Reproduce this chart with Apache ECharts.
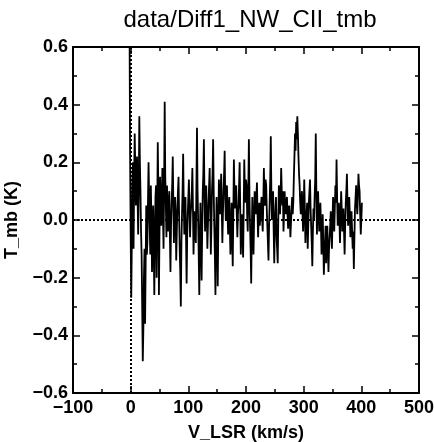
<!DOCTYPE html>
<html>
<head>
<meta charset="utf-8">
<script src="https://cdn.jsdelivr.net/npm/echarts@6/dist/echarts.min.js"></script>
<style>
  html, body { margin: 0; padding: 0; background: #fff; }
  #main { width: 434px; height: 442px; }
</style>
</head>
<body>
<div id="main"></div>
<script>
// spectrum: first channel velocity and channel width (km/s)
var v0 = -3;
var dv = 1;
// antenna temperature per channel (K)
var tmb = [
    0.95, 0.70, 0.23, -0.05, -0.27, -0.08, 0.12, 0.20, -0.10, 0.14, 0.30, 0.18, 0.05, 0.14, 0.22, 0.08, -0.05, 0.10, 0.36, 0.20,
    0.10, -0.04, -0.12, -0.30, -0.49, -0.38, -0.20, -0.10, -0.36, -0.15, 0.05, -0.12, -0.08, 0.06, 0.20, 0.08, -0.02, -0.12, 0.12, 0.00,
    -0.18, -0.06, 0.05, -0.10, -0.26, -0.05, 0.08, 0.12, -0.20, 0.02, 0.27, 0.10, -0.26, -0.04, 0.15, 0.05, -0.02, 0.08, 0.18, 0.02,
    -0.10, 0.12, 0.41, 0.15, 0.05, -0.06, 0.12, 0.02, -0.04, 0.06, 0.10, -0.05, -0.18, -0.02, 0.06, 0.12, 0.22, 0.06, -0.08, 0.02,
    0.08, 0.02, -0.14, -0.04, 0.04, 0.10, 0.15, 0.02, -0.10, -0.18, -0.30, -0.08, 0.02, 0.10, 0.23, 0.06, -0.05, 0.02, 0.08, -0.06,
    -0.22, -0.06, 0.02, 0.08, 0.14, 0.04, -0.06, 0.02, 0.05, 0.10, 0.18, 0.04, -0.12, -0.02, 0.03, -0.04, -0.08, 0.12, 0.32, 0.10,
    0.00, -0.12, -0.26, -0.06, 0.06, -0.08, -0.21, -0.04, 0.10, 0.16, 0.28, 0.08, -0.04, 0.04, 0.12, 0.02, -0.10, -0.02, 0.06, 0.12,
    0.18, 0.04, -0.12, -0.02, 0.10, 0.16, 0.28, 0.10, -0.02, -0.12, -0.26, -0.06, 0.08, -0.04, -0.23, -0.02, 0.14, 0.06, 0.02, 0.10,
    0.16, 0.04, -0.08, 0.02, 0.10, 0.16, 0.24, 0.08, 0.00, 0.06, 0.12, 0.02, -0.05, 0.03, 0.08, -0.02, -0.12, -0.04, 0.06, -0.06,
    -0.16, 0.02, 0.21, 0.10, 0.04, 0.08, 0.12, 0.02, -0.06, 0.02, 0.05, 0.12, 0.20, 0.04, -0.12, -0.02, 0.02, -0.06, -0.13, 0.04,
    0.21, 0.10, 0.06, 0.14, 0.12, 0.02, -0.04, 0.10, 0.28, 0.08, -0.02, -0.10, -0.22, -0.04, 0.08, -0.02, -0.12, 0.00, 0.10, 0.04,
    0.02, 0.08, 0.13, 0.02, -0.06, 0.02, 0.06, -0.02, 0.02, 0.05, 0.08, 0.00, -0.04, 0.06, 0.18, 0.08, 0.05, 0.14, 0.12, 0.04,
    -0.02, -0.08, -0.14, -0.02, 0.06, 0.14, 0.29, 0.10, 0.00, 0.05, 0.10, -0.04, -0.15, -0.02, 0.04, 0.08, -0.06, -0.10, -0.15, 0.00,
    0.12, 0.06, 0.02, 0.08, 0.18, 0.10, 0.05, 0.10, -0.04, 0.02, 0.10, 0.04, 0.02, 0.06, 0.08, 0.02, -0.03, 0.04, 0.05, 0.00,
    -0.06, -0.01, 0.04, 0.08, 0.02, 0.06, 0.15, 0.22, 0.30, 0.24, 0.34, 0.28, 0.36, 0.30, 0.22, 0.16, 0.12, 0.06, 0.02, 0.06,
    0.10, 0.02, -0.04, 0.04, 0.14, 0.04, -0.08, -0.02, 0.02, 0.06, -0.10, -0.02, 0.06, 0.10, 0.14, 0.04, -0.02, -0.08, -0.16, -0.04,
    0.04, 0.00, 0.08, 0.14, 0.30, 0.10, -0.05, 0.04, 0.10, 0.02, -0.04, 0.02, 0.06, -0.02, -0.12, -0.04, 0.02, -0.08, -0.19, -0.12,
    -0.08, -0.02, -0.15, -0.08, -0.02, -0.10, -0.18, -0.10, -0.06, -0.02, 0.03, -0.04, -0.10, 0.00, 0.08, 0.02, -0.04, 0.04, 0.12, 0.06,
    0.21, 0.08, -0.02, 0.02, 0.06, 0.00, -0.08, 0.02, 0.10, 0.04, -0.04, 0.02, 0.04, -0.04, -0.12, -0.02, 0.06, 0.10, 0.16, 0.06,
    -0.02, 0.02, 0.08, 0.02, -0.06, -0.02, 0.03, -0.04, -0.10, -0.04, -0.17, -0.06, 0.04, 0.08, 0.12, 0.06, 0.02, 0.08, 0.16, 0.12,
    0.10, 0.02, -0.05, 0.00, 0.06
];
var xTicks = [-100, 0, 100, 200, 300, 400, 500];
var yTicks = [-0.6, -0.4, -0.2, 0.0, 0.2, 0.4, 0.6];

var chart = echarts.init(document.getElementById('main'));

var points = tmb.map(function (t, i) {
    return [v0 + i * dv, t];
});

var font = 'Liberation Sans';

// minus sign like the original plot
function minus(s) {
    return String(s).replace('-', '\u2212');
}

var tickStyle = {show: true, inside: true, length: 7, lineStyle: {color: '#000', width: 1.5}};
var minorStyle = {show: true, splitNumber: 2, length: 4, lineStyle: {color: '#000', width: 1.5}};
var lineStyle = {show: true, onZero: false, lineStyle: {color: '#000', width: 2}};
var labelFont = {fontFamily: font, fontSize: 18, fontWeight: 'bold', color: '#000'};

var option = {
    backgroundColor: '#fff',
    animation: false,
    title: {
        text: 'data/Diff1_NW_CII_tmb',
        left: 245,
        top: 3,
        textAlign: 'center',
        textStyle: {fontFamily: font, fontSize: 24, fontWeight: 'normal', color: '#000'}
    },
    grid: {left: 73, right: 15, top: 47, bottom: 49, outerBoundsMode: 'none'},
    xAxis: [{
        type: 'value',
        min: -100, max: 500, interval: 100,
        name: 'V_LSR (km/s)',
        nameLocation: 'middle',
        nameGap: 31,
        nameTextStyle: labelFont,
        axisLine: lineStyle,
        axisTick: tickStyle,
        minorTick: minorStyle,
        splitLine: {show: false},
        axisLabel: Object.assign({
            margin: 6,
            formatter: function (v) { return xTicks.indexOf(v) >= 0 ? minus(v) : ''; }
        }, labelFont)
    }, {
        type: 'value', position: 'top',
        min: -100, max: 500, interval: 100,
        axisLine: lineStyle,
        axisTick: tickStyle,
        minorTick: minorStyle,
        splitLine: {show: false},
        axisLabel: {show: false}
    }],
    yAxis: [{
        type: 'value',
        min: -0.6, max: 0.6, interval: 0.2,
        name: 'T_mb (K)',
        nameLocation: 'middle',
        nameGap: 52,
        nameTextStyle: labelFont,
        axisLine: lineStyle,
        axisTick: tickStyle,
        minorTick: minorStyle,
        splitLine: {show: false},
        axisLabel: Object.assign({
            margin: 5,
            formatter: function (v) { return minus(v.toFixed(1)); }
        }, labelFont)
    }, {
        type: 'value', position: 'right',
        min: -0.6, max: 0.6, interval: 0.2,
        axisLine: lineStyle,
        axisTick: tickStyle,
        minorTick: minorStyle,
        splitLine: {show: false},
        axisLabel: {show: false}
    }],
    series: [{
        type: 'line',
        data: points,
        symbol: 'none',
        clip: true,
        lineStyle: {color: '#000', width: 1.8},
        markLine: {
            silent: true,
            symbol: 'none',
            label: {show: false},
            lineStyle: {color: '#000', type: [2, 2], width: 2},
            data: [{yAxis: 0}, {xAxis: 0}]
        }
    }]
};

chart.setOption(option);
</script>
</body>
</html>
